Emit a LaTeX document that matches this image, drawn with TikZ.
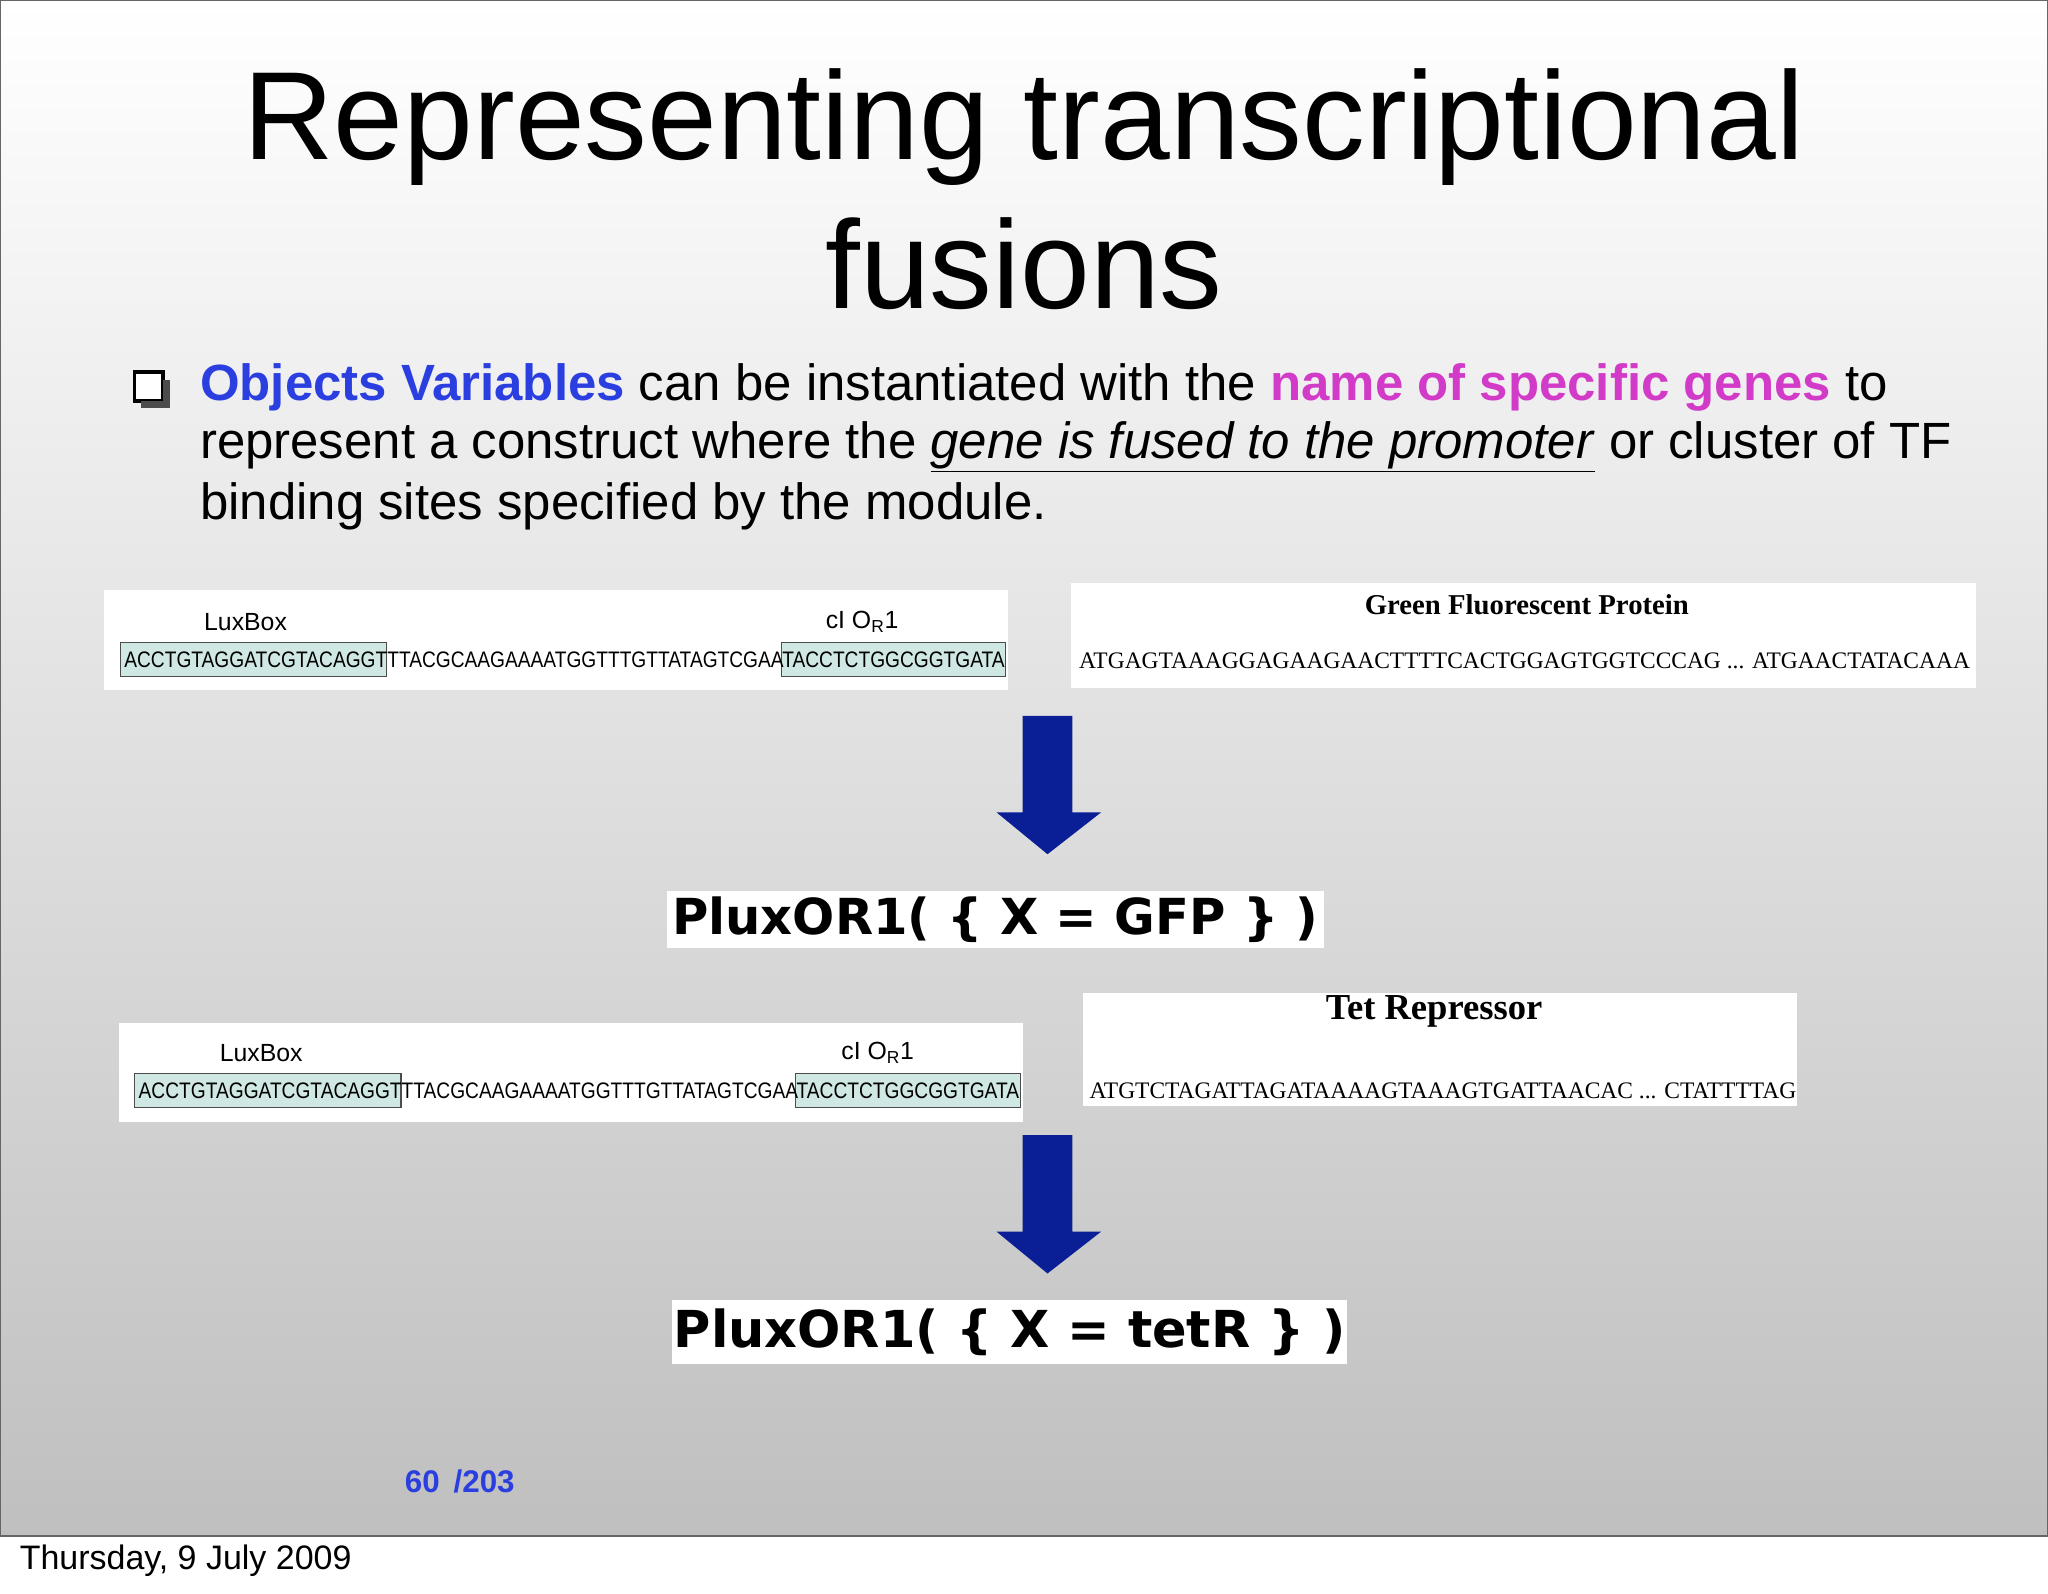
\documentclass[tikz,border=0pt]{standalone}
\usepackage{fontspec}
\setmainfont{Liberation Sans}
\newfontfamily\serifx{Liberation Serif}
\newfontfamily\djv{DejaVu Sans}
\usepackage{graphicx}
\definecolor{navy}{HTML}{0A1E96}
\definecolor{objblue}{HTML}{2B3FE0}
\definecolor{mag}{HTML}{D23AC8}
\definecolor{teal}{HTML}{CFE8E4}
\tikzset{
  panel/.style={fill=white,draw=none},
  hl/.style={fill=teal,draw=black!70,line width=0.8pt},
  seq/.style={inner sep=0pt,anchor=west},
  lbl/.style={inner sep=0pt,font=\fontsize{19}{22}\selectfont},
  bigarrow/.style={fill=navy,draw=none},
  plux/.style={fill=white,inner sep=4pt,font=\djv\bfseries\fontsize{38}{42}\selectfont},
  body/.style={anchor=west,inner sep=0pt,font=\fontsize{39}{44}\selectfont}
}
\begin{document}
\begin{tikzpicture}[x=1pt,y=-1pt]
\useasboundingbox (0,0) rectangle (1568,1220);
\fill[white] (0,0) rectangle (1568,1220);
\shade[top color=white,bottom color=black!25] (0,0) rectangle (1568,1176);
\draw[black!60,line width=1.5pt] (0,0) rectangle (1568,1176);
\node[font=\fontsize{26}{30}\selectfont,anchor=west,inner sep=0pt] (date) at (15,1195) {Thursday, 9 July 2009};
% title
\node[font=\fontsize{96}{106}\selectfont,inner sep=0pt] (t1) at (784,97) {Representing transcriptional};
\node[font=\fontsize{96}{106}\selectfont,inner sep=0pt] (t2) at (784,202) {fusions};
% bullet
\draw[line width=3pt,fill=white] (103,285) rectangle (125,307);
\fill[black!70] (125,291) rectangle (130,312);
\fill[black!70] (108,307) rectangle (130,312);
\node[body] (b1) at (153,297) {\textcolor{objblue}{\bfseries Objects Variables} can be instantiated with the \textcolor{mag}{\bfseries name of specific genes} to};
\node[body] (b2) at (153,342) {represent a construct where the \underline{\textit{gene is fused to the promoter}} or cluster of TF};
\node[body] (b3) at (153,388) {binding sites specified by the module.};
% panel 1
\fill[panel] (80,452) rectangle (772,528);
\draw[hl] (92,492) rectangle (296,518);
\draw[hl] (598,492) rectangle (770,518);
\node[lbl] (lux1) at (188,476) {LuxBox};
\node[lbl] (cio1) at (660,476) {cI O$_{\mathrm R}$1};
\node[seq] (s1) at (95,505) {\resizebox{674pt}{12pt}{ACCTGTAGGATCGTACAGGTTTACGCAAGAAAATGGTTTGTTATAGTCGAATACCTCTGGCGGTGATA}};
% panel 2
\fill[panel] (820,446) rectangle (1513,527);
\node[inner sep=0pt,font=\serifx\bfseries\fontsize{22}{24}\selectfont] (gfp) at (1169,463) {Green Fluorescent Protein};
\node[seq] (s2) at (826,506) {\resizebox{682pt}{12pt}{\serifx ATGAGTAAAGGAGAAGAACTTTTCACTGGAGTGGTCCCAG ... ATGAACTATACAAA}};
% arrow 1
\fill[bigarrow] (783,548) -- (821,548) -- (821,622) -- (843,622) -- (802,654) -- (763,622) -- (783,622) -- cycle;
\node[plux,minimum width=500pt,minimum height=38pt] (p1) at (762,704) {PluxOR1( \{ X = GFP \} )};
% panel 3
\fill[panel] (91,783) rectangle (783,859);
\draw[hl] (103,822) rectangle (307,848);
\draw[hl] (609,822) rectangle (781,848);
\node[lbl] (lux2) at (200,806) {LuxBox};
\node[lbl] (cio2) at (672,806) {cI O$_{\mathrm R}$1};
\node[seq] (s3) at (106,835) {\resizebox{674pt}{12pt}{ACCTGTAGGATCGTACAGGTTTACGCAAGAAAATGGTTTGTTATAGTCGAATACCTCTGGCGGTGATA}};
% panel 4
\fill[panel] (829,760) rectangle (1376,847);
\node[inner sep=0pt,font=\serifx\bfseries\fontsize{28}{30}\selectfont] (tet) at (1098,774) {Tet Repressor};
\node[seq] (s4) at (834,835) {\resizebox{541pt}{12pt}{\serifx ATGTCTAGATTAGATAAAAGTAAAGTGATTAACAC ... CTATTTTAG}};
% arrow 2
\fill[bigarrow] (783,869) -- (821,869) -- (821,943) -- (843,943) -- (802,975) -- (763,943) -- (783,943) -- cycle;
\node[plux,inner sep=1pt,minimum width=513pt,minimum height=49pt,font=\djv\bfseries\fontsize{39}{44}\selectfont] (p2) at (773,1020) {PluxOR1( \{ X = tetR \} )};
% page number
\node[inner sep=0pt,text=objblue,font=\bfseries\fontsize{24}{28}\selectfont] (pg) at (352,1134) {60 \,/203};
\end{tikzpicture}
\end{document}
